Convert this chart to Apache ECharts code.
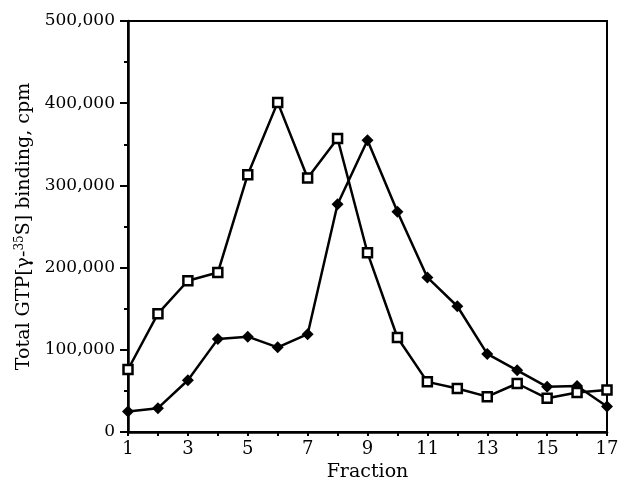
<!DOCTYPE html>
<html>
<head>
<meta charset="utf-8">
<script src="https://cdn.jsdelivr.net/npm/echarts@6/dist/echarts.min.js"></script>
<style>
  html, body { margin: 0; padding: 0; background: #fff; }
  #chart { width: 628px; height: 493px; }
</style>
</head>
<body>
<div id="chart"></div>
<script>
const fractions = [1, 2, 3, 4, 5, 6, 7, 8, 9, 10, 11, 12, 13, 14, 15, 16, 17]
// open squares
const squareVals = [76000, 144000, 184000, 194000, 313000, 401000, 309000, 357000, 218000,
  115000, 61000, 53000, 43000, 59000, 41000, 48000, 51000]
// filled diamonds
const diamondVals = [25000, 29000, 63000, 113000, 116000, 103000, 119000, 277000, 355000,
  268000, 188000, 153000, 95000, 75000, 55000, 56000, 31000]

const font = 'DejaVu Serif'

const chart = echarts.init(document.getElementById('chart'))
const pairs = vals => fractions.map((f, i) => [f, vals[i]])

const option = {
  animation: false,
  textStyle: { fontFamily: font, color: '#000' },
  grid: {
    left: 128, right: 21, top: 21, bottom: 61,
    show: true, borderColor: '#000', borderWidth: 2
  },
  xAxis: {
    type: 'value',
    min: 1, max: 17, interval: 2,
    name: 'Fraction',
    nameLocation: 'middle',
    nameGap: 21,
    nameTextStyle: { fontFamily: font, fontSize: 19, color: '#000' },
    axisLine: { lineStyle: { color: '#000', width: 2.5 } },
    axisTick: { length: 4, lineStyle: { color: '#000', width: 2 } },
    minorTick: { show: true, splitNumber: 2, length: 4, lineStyle: { color: '#000', width: 2 } },
    splitLine: { show: false },
    axisLabel: { fontFamily: font, fontSize: 18, color: '#000', margin: 8 }
  },
  yAxis: {
    type: 'value',
    min: 0, max: 500000, interval: 100000,
    name: 'Total GTP[γ-{sup|35}S] binding, cpm',
    nameLocation: 'middle',
    nameGap: 88,
    nameTextStyle: {
      fontFamily: font, fontSize: 19, color: '#000',
      rich: {
        sup: { fontFamily: font, fontSize: 12, color: '#000', verticalAlign: 'top', padding: [0, 0, 8, 0] }
      }
    },
    axisLine: { show: true, lineStyle: { color: '#000', width: 2.5 } },
    axisTick: { show: true, length: 8, lineStyle: { color: '#000', width: 2 } },
    minorTick: { show: true, splitNumber: 2, length: 4, lineStyle: { color: '#000', width: 2 } },
    splitLine: { show: false },
    axisLabel: {
      fontFamily: font, fontSize: 17, color: '#000', margin: 13,
      formatter: v => v.toLocaleString('en-US')
    }
  },
  series: [
    {
      type: 'line',
      data: pairs(diamondVals),
      symbol: 'diamond',
      symbolSize: 12,
      lineStyle: { color: '#000', width: 2.5 },
      itemStyle: { color: '#000' },
      z: 2
    },
    {
      type: 'line',
      data: pairs(squareVals),
      symbol: 'rect',
      symbolSize: 9,
      lineStyle: { color: '#000', width: 2.5 },
      itemStyle: { color: '#fff', borderColor: '#000', borderWidth: 2.5 },
      z: 3
    }
  ]
}

chart.setOption(option)
</script>
</body>
</html>
